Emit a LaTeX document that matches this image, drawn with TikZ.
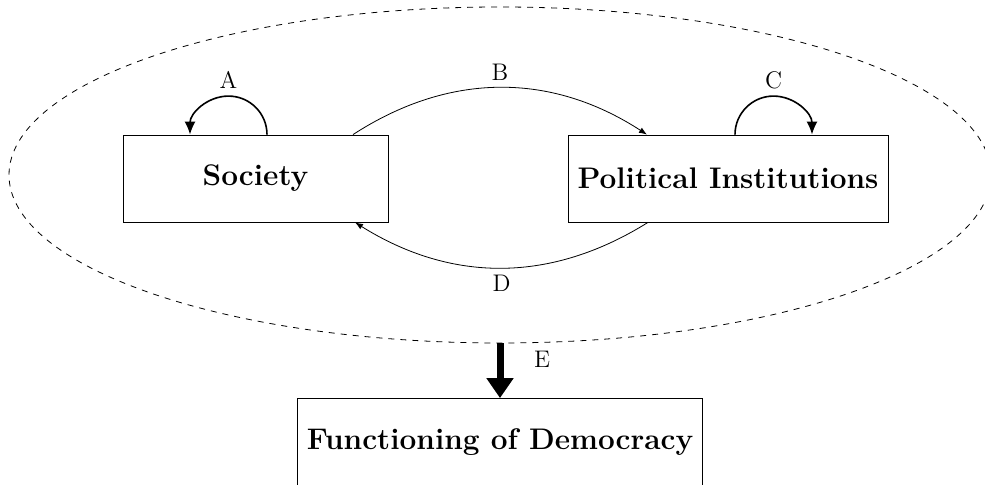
\documentclass[tikz,border=0pt]{standalone}
\usetikzlibrary{arrows.meta,shapes.geometric}
\begin{document}
\begin{tikzpicture}[x=0.5pt,y=0.5pt,
    box/.style={draw,minimum height=43.5pt,font=\fontsize{14.9}{18}\selectfont\bfseries},
    lbl/.style={font=\large}]
  \useasboundingbox (0,0) rectangle (985,485);
  \node[draw,dashed,ellipse,minimum width=491pt,minimum height=168pt] (loop) at (500,310) {};
  \node[box,minimum width=132.5pt] (soc) at (255.5,306.5) {Society};
  \node[box,minimum width=160pt] (pol) at (728,306.5) {Political Institutions};
  \node[box,minimum width=202.5pt] (dem) at (500,43) {Functioning of Democracy};
  \draw[thick,-{Latex[length=6.5pt,width=5.5pt]}] ([xshift=5.75pt]soc.north) arc[start angle=0,end angle=180,radius=19.25pt]
    node[lbl,midway,above] {A};
  \draw[thick,-{Latex[length=6.5pt,width=5.5pt]}] ([xshift=3.5pt]pol.north) arc[start angle=180,end angle=0,radius=19.25pt]
    node[lbl,midway,above] {C};
  \draw[-{Latex[length=4pt]}] ([xshift=48.75pt]soc.north) to[bend left=33] node[lbl,above] {B} ([xshift=-40.5pt]pol.north);
  \draw[-{Latex[length=4pt]}] ([xshift=-40pt]pol.south) to[bend left=32] node[lbl,below] {D} ([xshift=49.75pt]soc.south);
  \draw[line width=3.5pt,-{Triangle[length=10pt,width=13pt]}] (loop.south) -- (dem.north)
    node[lbl,pos=.3,right=12pt] {E};
\end{tikzpicture}
\end{document}
